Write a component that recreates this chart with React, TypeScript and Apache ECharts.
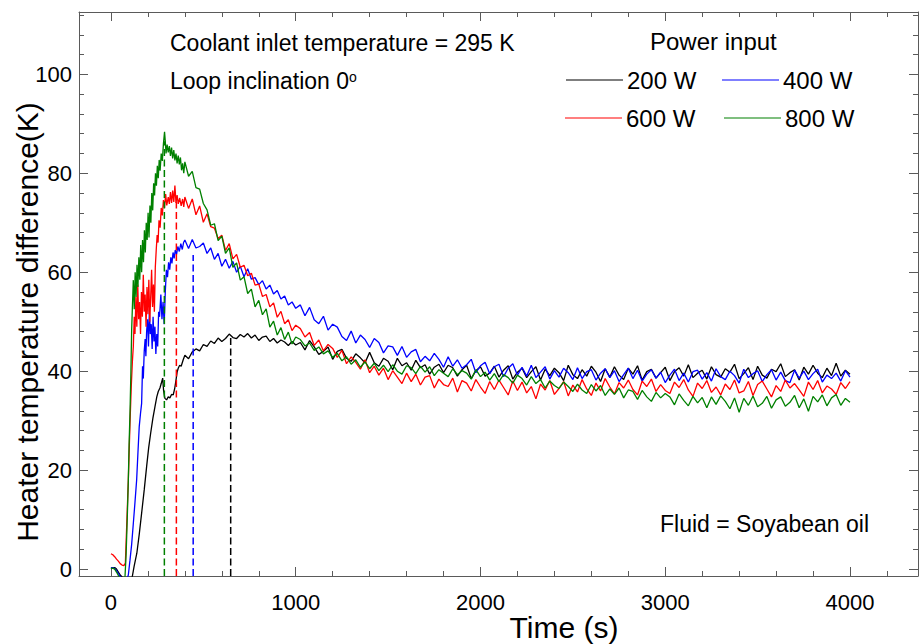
import React, { useEffect, useRef } from 'react';
import * as echarts from 'echarts';

const FONT = '"Liberation Sans", Arial, Helvetica, sans-serif';

const seriesNames = ['200 W', '400 W', '600 W', '800 W'];
const seriesColors = ['#000000', '#0000ff', '#ff0000', '#008000'];

// ---- early part of each run (t < 400 s) ----
const early200T = [0, 10, 20, 30, 40, 50, 60, 80, 100, 115, 125, 140, 153, 166, 180, 193, 204, 215, 227, 238, 248, 256, 265, 272, 280, 285, 292, 301, 310, 319, 328, 337, 345, 352, 358, 364, 372, 380, 391];
const early200V = [0.1, 0.3, 0.3, 0.0, -0.6, -1.2, -1.6, -2.2, -2.2, -1.6, 0.5, 3.2, 7.0, 11.3, 16.0, 20.7, 24.5, 27.5, 30.5, 32.8, 34.8, 35.9, 36.6, 37.5, 38.6, 36.0, 34.5, 34.2, 34.8, 34.6, 35.3, 35.2, 36.5, 38.2, 39.8, 40.6, 41.2, 41.0, 42.3];

const early400T = [0, 10, 20, 30, 40, 50, 70, 85, 94, 103, 112, 121, 130, 139, 146, 153, 160, 166, 171, 175, 180, 185, 189, 193, 198, 203, 208, 213, 218, 223, 228, 233, 238, 243, 248, 253, 258, 263, 270, 276, 282, 288, 294, 300, 306, 312, 318, 324, 330, 336, 342, 348, 355, 362, 370, 378, 386, 393];
const early400V = [0.2, 0.3, 0.1, -0.3, -0.9, -1.5, -2.5, -2.2, -1.2, 1.8, 5.0, 9.2, 13.5, 18.0, 23.5, 28.8, 31.5, 33.5, 41.0, 38.5, 44.0, 46.5, 43.0, 48.0, 50.5, 45.0, 52.5, 47.5, 49.5, 44.5, 51.0, 46.0, 49.0, 43.5, 47.5, 45.0, 52.0, 51.0, 55.5, 50.5, 54.0, 49.5, 56.0, 60.5, 59.0, 62.0, 60.5, 63.0, 61.8, 64.0, 62.8, 64.5, 63.6, 65.2, 64.2, 65.8, 64.6, 66.0];

const early600T = [0, 10, 20, 30, 40, 50, 60, 70, 78, 85, 94, 103, 110, 116, 121, 126, 130, 135, 140, 145, 150, 155, 160, 165, 170, 175, 180, 185, 190, 195, 200, 205, 210, 215, 220, 225, 230, 235, 240, 245, 250, 255, 260, 266, 272, 278, 284, 290, 296, 302, 310, 316, 322, 328, 334, 340, 346, 352, 358, 364, 372, 380, 388, 394];
const early600V = [3.1, 2.9, 2.5, 2.0, 1.6, 1.1, 0.8, 0.7, 1.2, 8.6, 18.0, 29.5, 37.0, 42.0, 45.0, 51.0, 47.5, 55.0, 49.0, 57.5, 50.5, 54.0, 47.5, 56.0, 51.0, 59.5, 52.0, 55.5, 49.0, 57.0, 51.5, 58.5, 50.0, 55.0, 60.5, 53.0, 57.5, 52.0, 61.0, 64.5, 67.5, 66.0, 70.5, 69.0, 73.0, 71.5, 74.6, 73.0, 75.8, 73.5, 75.2, 73.8, 76.2, 74.0, 76.5, 74.2, 77.5, 74.0, 75.6, 73.8, 75.0, 73.4, 74.8, 73.2];

const early800T = [0, 10, 20, 30, 40, 50, 65, 76, 82, 88, 94, 98, 103, 108, 112, 116, 121, 126, 131, 136, 141, 146, 151, 156, 161, 166, 171, 176, 181, 186, 191, 196, 201, 206, 211, 216, 221, 226, 231, 236, 241, 246, 251, 256, 261, 266, 272, 278, 284, 290, 294, 298, 304, 310, 316, 322, 328, 334, 340, 346, 352, 358, 364, 370, 376, 382, 388, 394];
const early800V = [0.1, 0.2, 0.0, -0.6, -1.3, -2.0, -2.4, -1.5, 3.0, 10.0, 18.0, 25.0, 31.6, 40.0, 48.3, 53.0, 58.4, 52.5, 60.0, 55.0, 61.5, 57.0, 63.0, 58.5, 65.5, 60.0, 66.5, 62.0, 68.5, 64.0, 70.0, 66.5, 72.0, 67.0, 73.5, 70.0, 76.0, 72.5, 78.0, 75.5, 80.0, 77.5, 81.5, 79.0, 82.7, 80.5, 84.0, 82.5, 86.0, 88.4, 86.5, 84.0, 85.8, 84.2, 85.5, 83.5, 85.2, 83.0, 84.7, 82.6, 84.0, 82.0, 83.6, 81.8, 83.2, 80.6, 82.0, 80.0];

// ---- shared time grids for the later part ----
const midTimes = [400, 420, 440, 460, 480, 500, 520, 540, 560, 580, 600, 620, 640, 660, 680, 700, 720, 740, 760, 780, 800, 820, 840, 860, 880, 900, 920, 940, 960, 980, 1000];
const lateTimes = [1025, 1050, 1075, 1100, 1125, 1150, 1175, 1200, 1225, 1250, 1275, 1300, 1325, 1350, 1375, 1400, 1425, 1450, 1475, 1500, 1525, 1550, 1575, 1600, 1625, 1650, 1675, 1700, 1725, 1750, 1775, 1800, 1825, 1850, 1875, 1900, 1925, 1950, 1975, 2000, 2025, 2050, 2075, 2100, 2125, 2150, 2175, 2200, 2225, 2250, 2275, 2300, 2325, 2350, 2375, 2400, 2425, 2450, 2475, 2500, 2525, 2550, 2575, 2600, 2625, 2650, 2675, 2700, 2725, 2750, 2775, 2800, 2825, 2850, 2875, 2900, 2925, 2950, 2975, 3000, 3025, 3050, 3075, 3100, 3125, 3150, 3175, 3200, 3225, 3250, 3275, 3300, 3325, 3350, 3375, 3400, 3425, 3450, 3475, 3500, 3525, 3550, 3575, 3600, 3625, 3650, 3675, 3700, 3725, 3750, 3775, 3800, 3825, 3850, 3875, 3900, 3925, 3950, 3975, 4000];

const mid200 = [43.2, 42.5, 43.9, 44.5, 44.1, 45.4, 45.0, 46.1, 45.6, 46.7, 46.0, 46.6, 47.5, 46.8, 46.6, 47.4, 46.9, 47.6, 46.7, 47.3, 46.2, 46.9, 47.1, 46.0, 46.6, 45.7, 46.3, 45.9, 45.2, 46.0, 45.3];
const mid400 = [66.5, 64.8, 66.6, 64.9, 65.2, 65.9, 63.8, 64.9, 62.6, 63.8, 61.2, 62.6, 60.8, 62.2, 60.0, 61.2, 59.1, 60.7, 58.6, 58.9, 57.5, 58.3, 56.6, 57.4, 55.6, 56.3, 54.6, 55.2, 53.4, 54.0, 52.7];
const mid600 = [75.2, 72.9, 74.8, 71.6, 73.4, 70.1, 71.8, 69.2, 68.9, 66.8, 67.5, 64.4, 65.8, 62.7, 63.6, 61.0, 61.4, 59.3, 59.8, 57.4, 57.6, 55.1, 55.5, 53.0, 53.8, 50.9, 52.1, 49.6, 50.4, 48.2, 49.3];
const mid800 = [82.3, 79.4, 80.4, 77.1, 76.8, 73.9, 72.6, 69.5, 69.8, 66.4, 67.3, 63.8, 64.9, 61.0, 61.9, 58.4, 59.1, 55.7, 56.6, 53.0, 54.3, 51.4, 52.6, 48.9, 50.1, 47.3, 48.8, 46.4, 47.9, 45.5, 46.9];

const late200 = [
  45.8, 44.3, 46.2, 44.9, 43.4, 44.0, 44.9, 42.4,
  44.0, 44.4, 42.6, 42.0, 43.5, 42.7, 41.7, 43.8,
  41.7, 41.0, 42.6, 42.0, 40.3, 42.6, 41.1, 41.7,
  40.2, 42.2, 40.7, 41.3, 39.4, 40.8, 41.4, 39.7,
  41.2, 40.7, 39.0, 40.3, 41.2, 38.5, 40.1, 40.9,
  39.0, 39.6, 41.0, 38.8, 40.2, 41.1, 38.4, 39.8,
  40.6, 38.7, 39.9, 40.9, 38.2, 40.4, 39.1, 40.6,
  39.7, 38.1, 41.2, 39.3, 38.5, 40.3, 39.0, 41.0,
  39.8, 37.9, 40.5, 38.8, 40.9, 39.2, 38.3, 40.6,
  39.4, 41.1, 38.2, 39.9, 40.4, 38.6, 39.7, 40.8,
  38.1, 39.9, 40.7, 39.0, 41.3, 38.7, 39.6, 40.2,
  38.4, 40.9, 39.3, 38.8, 40.5, 39.8, 41.4, 38.5,
  39.5, 40.7, 38.3, 41.0, 39.2, 38.6, 40.4, 39.9,
  41.5, 38.9, 39.7, 40.3, 38.2, 40.8, 39.4, 41.2,
  39.6, 38.7, 40.6, 39.1, 41.6, 39.0, 40.2, 39.4];
const late400 = [
  53.4, 51.2, 52.9, 50.4, 49.6, 51.1, 48.3, 49.5,
  48.9, 47.0, 46.2, 48.1, 45.7, 47.3, 46.4, 44.8,
  46.6, 45.8, 43.7, 45.1, 44.9, 43.2, 45.0, 42.8,
  43.9, 44.4, 41.9, 43.0, 42.1, 43.6, 42.4, 40.8,
  42.9, 41.0, 42.3, 40.6, 41.3, 42.4, 39.7, 41.1,
  41.8, 39.5, 40.9, 41.4, 38.9, 40.6, 41.5, 39.2,
  40.8, 39.0, 41.2, 38.7, 39.8, 40.9, 38.4, 40.1,
  38.8, 40.6, 39.7, 38.3, 40.7, 38.5, 39.9, 40.3,
  38.2, 39.6, 40.5, 38.7, 40.1, 37.9, 39.3, 40.6,
  38.5, 40.2, 38.0, 39.4, 40.3, 38.6, 39.8, 37.7,
  39.2, 40.4, 38.1, 39.6, 37.8, 39.9, 40.2, 38.4,
  39.7, 38.0, 40.5, 38.9, 38.3, 40.0, 39.1, 37.6,
  40.4, 38.7, 39.5, 40.1, 37.9, 39.3, 40.3, 38.2,
  39.8, 38.1, 37.7, 40.2, 38.6, 40.0, 38.3, 39.5,
  40.4, 37.8, 39.2, 38.5, 39.6, 38.0, 40.1, 38.8];
const late600 = [
  48.6, 46.9, 47.8, 45.2, 46.3, 44.1, 45.4, 44.6,
  42.8, 44.2, 41.5, 42.9, 41.8, 40.4, 42.3, 39.7,
  41.0, 39.2, 40.6, 38.3, 40.1, 38.8, 37.5, 39.6,
  37.9, 39.4, 37.2, 38.8, 39.1, 36.6, 38.4, 37.3,
  36.9, 38.6, 35.8, 38.1, 37.6, 36.0, 38.3, 36.8,
  35.5, 37.9, 36.3, 38.2, 36.7, 35.2, 38.0, 36.1,
  37.8, 35.6, 36.9, 34.4, 37.4, 36.2, 38.1, 35.3,
  36.5, 37.9, 35.0, 37.2, 35.8, 38.3, 36.4, 35.1,
  37.6, 36.0, 38.5, 36.8, 35.4, 37.7, 36.6, 38.2,
  36.3, 35.2, 38.0, 36.9, 38.4, 35.9, 37.3, 36.1,
  35.5, 37.8, 36.7, 38.3, 36.2, 34.9, 37.6, 36.5,
  38.1, 35.7, 36.8, 35.2, 37.4, 36.3, 38.2, 35.6,
  36.0, 37.9, 35.1, 37.3, 38.0, 36.4, 34.8, 37.1,
  35.9, 38.2, 36.6, 37.5, 36.2, 34.9, 37.8, 36.3,
  38.1, 35.6, 37.0, 36.4, 35.3, 37.7, 36.5, 37.9];
const late800 = [
  46.4, 45.1, 45.7, 44.2, 44.9, 43.5, 44.1, 42.8,
  43.6, 42.1, 42.9, 41.4, 42.3, 40.8, 41.9, 40.5,
  41.6, 40.1, 41.2, 39.9, 41.3, 40.0, 39.4, 41.1,
  40.7, 39.5, 41.0, 39.8, 40.9, 39.1, 40.3, 39.6,
  38.9, 40.5, 39.3, 40.1, 39.6, 38.4, 40.3, 38.9,
  39.8, 38.2, 39.5, 37.9, 39.3, 38.7, 37.6, 39.2,
  38.5, 37.2, 38.9, 37.5, 38.3, 36.6, 38.0, 37.1,
  36.5, 37.8, 36.9, 35.9, 37.4, 36.2, 35.5, 37.3,
  36.0, 37.1, 35.1, 36.4, 35.3, 36.6, 34.6, 36.2,
  35.9, 34.3, 36.1, 34.8, 33.9, 35.7, 34.6, 35.5,
  34.8, 33.2, 35.4, 34.1, 33.0, 34.9, 33.6, 34.7,
  32.6, 34.8, 33.3, 35.0, 33.9, 32.4, 34.6, 31.7,
  34.5, 33.1, 35.0, 32.8, 33.5, 34.9, 32.5, 34.2,
  34.8, 32.9, 33.7, 35.1, 32.6, 34.4, 31.9, 34.9,
  33.8, 35.2, 33.0, 34.6, 35.3, 33.1, 34.5, 33.7];

// time and height of each run's maximum (dashed markers)
const peakTimes = [648, 445, 354, 289];
const peakValues = [47.2, 63.5, 75.0, 86.5];

// axes
const X_MIN = -173;
const X_MAX = 4368;
const Y_MIN = -1.4;
const Y_MAX = 112.6;
const xMajorTicks = [0, 1000, 2000, 3000, 4000];
const xMinorTicks = [200, 400, 600, 800, 1200, 1400, 1600, 1800, 2200, 2400, 2600, 2800, 3200, 3400, 3600, 3800, 4200];
const yMajorTicks = [0, 20, 40, 60, 80, 100];
const yMinorTicks = [4, 8, 12, 16, 24, 28, 32, 36, 44, 48, 52, 56, 64, 68, 72, 76, 84, 88, 92, 96, 104, 108, 112];

const zip = (ts: number[], vs: number[]) => ts.map((t, i) => [t, vs[i]]);

const seriesData = [
  [...zip(early200T, early200V), ...zip(midTimes, mid200), ...zip(lateTimes, late200)],
  [...zip(early400T, early400V), ...zip(midTimes, mid400), ...zip(lateTimes, late400)],
  [...zip(early600T, early600V), ...zip(midTimes, mid600), ...zip(lateTimes, late600)],
  [...zip(early800T, early800V), ...zip(midTimes, mid800), ...zip(lateTimes, late800)],
];

const AXIS_COLOR = '#5a5a5a';
const plain = (v: number) => String(v);

function xAx(position: 'top' | 'bottom', major: boolean, label: boolean) {
  return {
    type: 'value',
    min: X_MIN,
    max: X_MAX,
    position,
    splitLine: { show: false },
    axisLine: { show: major, onZero: false, lineStyle: { color: AXIS_COLOR, width: 1 } },
    axisTick: {
      show: true,
      inside: true,
      length: major ? 9 : 5,
      customValues: major ? xMajorTicks : xMinorTicks,
      lineStyle: { color: AXIS_COLOR, width: 1 },
    },
    axisLabel: label
      ? { show: true, customValues: xMajorTicks, formatter: plain, margin: 15, fontSize: 22, color: '#000', fontFamily: FONT }
      : { show: false },
  };
}

function yAx(position: 'left' | 'right', major: boolean, label: boolean) {
  return {
    type: 'value',
    min: Y_MIN,
    max: Y_MAX,
    position,
    splitLine: { show: false },
    axisLine: { show: major, onZero: false, lineStyle: { color: AXIS_COLOR, width: 1 } },
    axisTick: {
      show: true,
      inside: true,
      length: major ? 9 : 5,
      customValues: major ? yMajorTicks : yMinorTicks,
      lineStyle: { color: AXIS_COLOR, width: 1 },
    },
    axisLabel: label
      ? { show: true, customValues: yMajorTicks, formatter: plain, margin: 7, fontSize: 22, color: '#000', fontFamily: FONT }
      : { show: false },
  };
}

const legendLeft = [566, 722, 565, 724];
const legendTop = [68, 68, 106, 106];

function buildOption() {
  const lines = seriesNames.map((name, i) => ({
    name,
    type: 'line',
    data: seriesData[i],
    xAxisIndex: 0,
    yAxisIndex: 0,
    showSymbol: false,
    symbol: 'none',
    clip: true,
    lineStyle: { color: seriesColors[i], width: 1.3 },
    itemStyle: { color: seriesColors[i] },
    z: 2 + i,
  }));
  const dashed = seriesNames.map((name, i) => ({
    name: name + ' max',
    type: 'line',
    data: [
      [peakTimes[i], Y_MIN],
      [peakTimes[i], peakValues[i]],
    ],
    xAxisIndex: 0,
    yAxisIndex: 0,
    showSymbol: false,
    symbol: 'none',
    lineStyle: { color: seriesColors[i], width: 1.5, type: [7, 3.5] },
    z: 10,
  }));
  return {
    animation: false,
    backgroundColor: '#ffffff',
    grid: { left: 79, right: 2, top: 12, bottom: 68, containLabel: false, outerBoundsMode: 'none' },
    xAxis: [xAx('bottom', true, true), xAx('bottom', false, false), xAx('top', true, false), xAx('top', false, false)],
    yAxis: [yAx('left', true, true), yAx('left', false, false), yAx('right', true, false), yAx('right', false, false)],
    legend: seriesNames.map((name, i) => ({
      data: [name],
      left: legendLeft[i],
      top: legendTop[i],
      icon: 'rect',
      itemWidth: 57,
      itemHeight: 1.2,
      padding: 0,
      selectedMode: false,
      textStyle: { fontSize: 24, color: '#000', fontFamily: FONT, padding: [0, 0, 0, -1] },
    })),
    series: [...lines, ...dashed],
    graphic: [
      {
        type: 'text',
        x: 170,
        y: 43,
        style: { text: 'Coolant inlet temperature = 295 K', fontSize: 23, fontFamily: FONT, fill: '#000', verticalAlign: 'middle' },
      },
      {
        type: 'text',
        x: 170,
        y: 81,
        style: {
          text: '{a|Loop inclination 0}{s|o}',
          verticalAlign: 'middle',
          rich: {
            a: { fontSize: 23, fontFamily: FONT, fill: '#000' },
            s: { fontSize: 14, fontFamily: FONT, fill: '#000', verticalAlign: 'top' },
          },
        },
      },
      {
        type: 'text',
        x: 650,
        y: 41,
        style: { text: 'Power input', fontSize: 24, fontFamily: FONT, fill: '#000', verticalAlign: 'middle' },
      },
      {
        type: 'text',
        x: 660,
        y: 524,
        style: { text: 'Fluid = Soyabean oil', fontSize: 23, fontFamily: FONT, fill: '#000', verticalAlign: 'middle' },
      },
      {
        type: 'text',
        x: 564,
        y: 627,
        style: { text: 'Time (s)', fontSize: 30, fontFamily: FONT, fill: '#000', align: 'center', verticalAlign: 'middle' },
      },
      {
        type: 'text',
        x: 27,
        y: 322,
        rotation: Math.PI / 2,
        style: {
          text: 'Heater temperature difference(K)',
          fontSize: 30,
          fontFamily: FONT,
          fill: '#000',
          align: 'center',
          verticalAlign: 'middle',
        },
      },
    ],
  };
}

export default function App() {
  const ref = useRef<HTMLDivElement>(null);
  useEffect(() => {
    if (!ref.current) return;
    const chart = echarts.init(ref.current, null, { renderer: 'svg' });
    chart.setOption(buildOption() as any);
    return () => chart.dispose();
  }, []);
  return (
    <div
      ref={ref}
      style={{ position: 'fixed', left: 0, top: 0, width: 920, height: 644, background: '#fff' }}
    />
  );
}
